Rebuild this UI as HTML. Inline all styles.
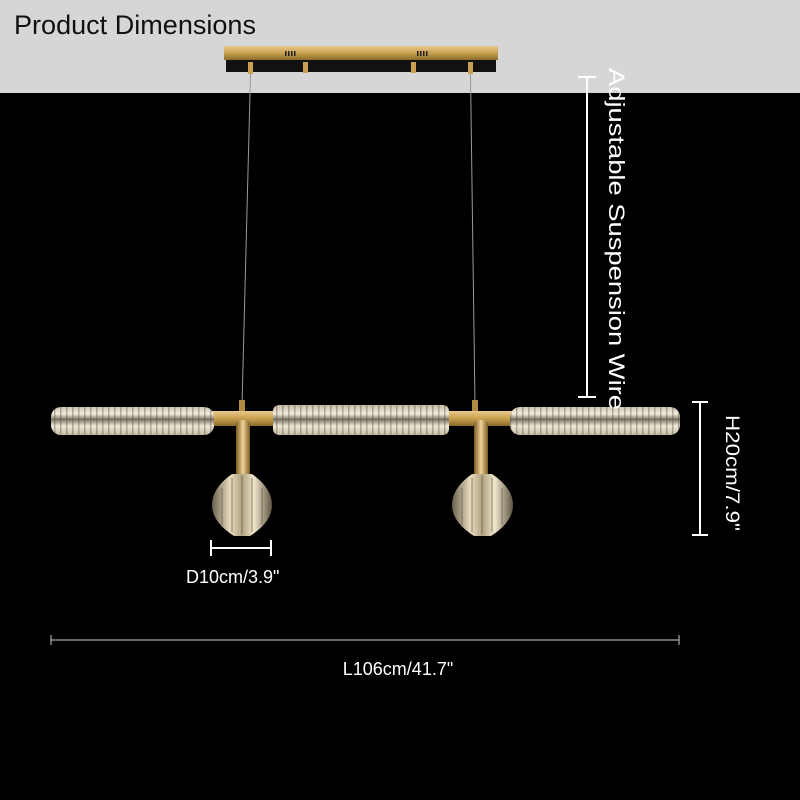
<!DOCTYPE html>
<html><head><style>html,body{margin:0;padding:0;background:#000}svg{display:block}</style></head><body>
<svg width="800" height="800" viewBox="0 0 800 800" xmlns="http://www.w3.org/2000/svg" font-family="Liberation Sans, sans-serif">
<defs>
<linearGradient id="gold" x1="0" y1="0" x2="0" y2="1"><stop offset="0" stop-color="#e9c98a"/><stop offset="0.5" stop-color="#c9a050"/><stop offset="1" stop-color="#8a6a2a"/></linearGradient>
<linearGradient id="goldv" x1="0" y1="0" x2="1" y2="0"><stop offset="0" stop-color="#7a5a20"/><stop offset="0.5" stop-color="#f0d49a"/><stop offset="1" stop-color="#7a5a20"/></linearGradient>
<linearGradient id="glass" x1="0" y1="0" x2="0" y2="1"><stop offset="0" stop-color="#8a8270"/><stop offset="0.2" stop-color="#efe9d8"/><stop offset="0.5" stop-color="#c4baa2"/><stop offset="0.8" stop-color="#f2ecdc"/><stop offset="1" stop-color="#6e6654"/></linearGradient>
<pattern id="rib" width="6" height="30" patternUnits="userSpaceOnUse"><rect width="6" height="30" fill="url(#glass)"/><rect width="1.5" height="30" fill="#5a5040" opacity="0.4"/></pattern>
<linearGradient id="globe" x1="0" y1="0" x2="1" y2="0"><stop offset="0" stop-color="#6a604c"/><stop offset="0.3" stop-color="#e8dcc0"/><stop offset="0.5" stop-color="#b0a282"/><stop offset="0.7" stop-color="#f0e6cc"/><stop offset="1" stop-color="#5e5442"/></linearGradient>
</defs>
<rect width="800" height="800" fill="#000"/>
<rect width="800" height="93" fill="#d6d6d6"/>
<text x="14" y="34" font-size="27" fill="#111" textLength="242" lengthAdjust="spacingAndGlyphs">Product Dimensions</text>
<rect x="224" y="46" width="274" height="14" fill="url(#gold)"/>
<rect x="226" y="60" width="270" height="12" fill="#111"/>
<g fill="#222"><rect x="285" y="51" width="1.5" height="5"/><rect x="288" y="51" width="1.5" height="5"/><rect x="291" y="51" width="1.5" height="5"/><rect x="294" y="51" width="1.5" height="5"/><rect x="417" y="51" width="1.5" height="5"/><rect x="420" y="51" width="1.5" height="5"/><rect x="423" y="51" width="1.5" height="5"/><rect x="426" y="51" width="1.5" height="5"/></g>
<g fill="#c9a050"><rect x="248" y="62" width="5" height="12"/><rect x="303" y="62" width="5" height="11"/><rect x="411" y="62" width="5" height="11"/><rect x="468" y="62" width="5" height="12"/></g>
<line x1="250.5" y1="74" x2="242" y2="405" stroke="#999" stroke-width="1"/>
<line x1="470.5" y1="74" x2="475" y2="405" stroke="#999" stroke-width="1"/>
<rect x="239" y="400" width="6" height="12" fill="#b08a40"/>
<rect x="472" y="400" width="6" height="12" fill="#b08a40"/>
<rect x="205" y="411" width="315" height="15" fill="url(#gold)"/>
<rect x="236" y="420" width="14" height="60" rx="5" fill="url(#goldv)"/>
<rect x="474" y="420" width="14" height="60" rx="5" fill="url(#goldv)"/>
<rect x="51" y="407" width="163" height="28" rx="10" fill="url(#rib)"/>
<rect x="273" y="405" width="176" height="30" rx="6" fill="url(#rib)"/>
<rect x="510" y="407" width="170" height="28" rx="10" fill="url(#rib)"/>
<path d="M232 474 L252 474 Q272 488 272 505 Q272 522 250 536 L234 536 Q212 522 212 505 Q212 488 232 474 Z" fill="url(#globe)"/>
<path d="M472 474 L492 474 Q513 488 513 505 Q513 522 491 536 L474 536 Q452 522 452 505 Q452 488 472 474 Z" fill="url(#globe)"/>
<g stroke="#5a5040" stroke-width="1" opacity="0.6"><line x1="222" y1="488" x2="222" y2="525"/><line x1="232" y1="478" x2="232" y2="532"/><line x1="242" y1="476" x2="242" y2="534"/><line x1="252" y1="478" x2="252" y2="532"/><line x1="262" y1="488" x2="262" y2="525"/><line x1="462" y1="488" x2="462" y2="525"/><line x1="472" y1="478" x2="472" y2="532"/><line x1="482" y1="476" x2="482" y2="534"/><line x1="492" y1="478" x2="492" y2="532"/><line x1="502" y1="488" x2="502" y2="525"/></g>
<g stroke="#fff" stroke-width="2" fill="none">
<line x1="587" y1="77" x2="587" y2="397"/><line x1="578" y1="77" x2="596" y2="77"/><line x1="578" y1="397" x2="596" y2="397"/>
<line x1="700" y1="402" x2="700" y2="535"/><line x1="692" y1="402" x2="708" y2="402"/><line x1="692" y1="535" x2="708" y2="535"/>
<line x1="211" y1="548" x2="271" y2="548"/><line x1="211" y1="540" x2="211" y2="556"/><line x1="271" y1="540" x2="271" y2="556"/>
</g>
<g stroke="#ccc" stroke-width="1"><line x1="51" y1="640" x2="679" y2="640"/><line x1="51" y1="635" x2="51" y2="645"/><line x1="679" y1="635" x2="679" y2="645"/></g>
<text transform="translate(609,68) rotate(90)" font-size="22" fill="#fff" textLength="342" lengthAdjust="spacingAndGlyphs">Adjustable Suspension Wire</text>
<text transform="translate(726,415) rotate(90)" font-size="19" fill="#fff" textLength="116" lengthAdjust="spacingAndGlyphs">H20cm/7.9"</text>
<text x="186" y="583" font-size="18" fill="#fff">D10cm/3.9"</text>
<text x="398" y="675" font-size="18" fill="#fff" text-anchor="middle">L106cm/41.7"</text>
</svg>
</body></html>
